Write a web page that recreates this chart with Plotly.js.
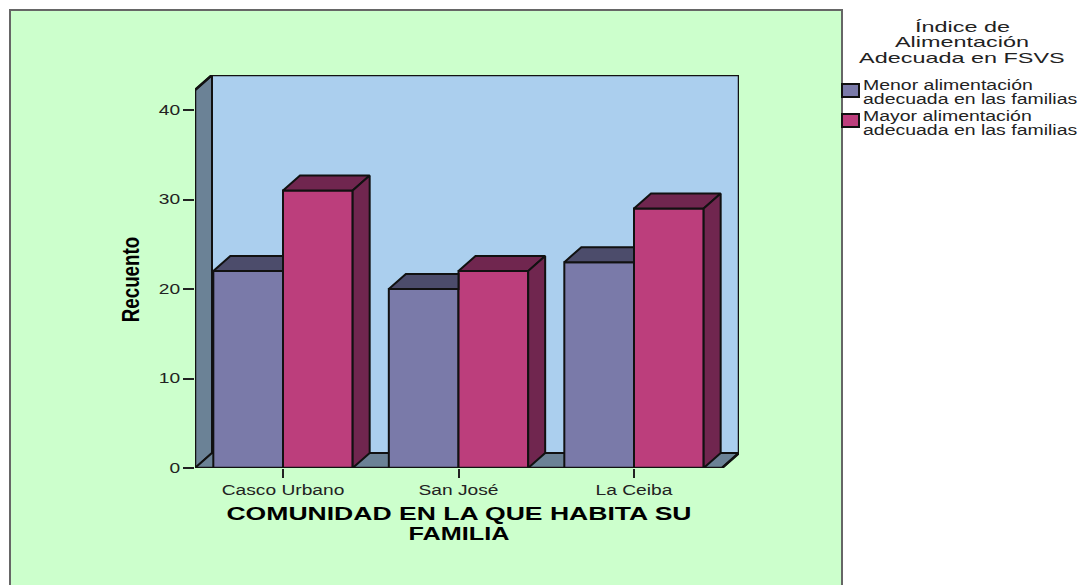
<!DOCTYPE html>
<html><head><meta charset="utf-8">
<script src="https://cdn.plot.ly/plotly-3.0.1.min.js"></script>
<style>
html,body{margin:0;padding:0;background:#fff}
</style></head><body>
<div id="chart" style="width:1080px;height:585px"></div>
<script>
const categories=['Casco Urbano','San José','La Ceiba'];
const categoryIndex=[0,1,2];
const menorValues=[22,20,23];
const mayorValues=[31,22,29];
const menorName=['Menor alimentación','adecuada en las familias'];
const mayorName=['Mayor alimentación','adecuada en las familias'];
const legendTitle=['Índice de','Alimentación','Adecuada en FSVS'];
const yTicks=[0,10,20,30,40];

const blue='#7A7AA9',blueTop='#4C4C6B',pink='#BC3E7C',pinkDark='#70264F';
const wall='#6B8296',back='#ABCFEE',panel='#CCFFCC',ink='#111';
const xMin=-0.5014,xMax=2.5983,yMax=43.91;
const dx=17/175.5,dy=15/8.95,gap=0.206,w=(1-gap)/2;
const face_font='Liberation Sans, Arial, sans-serif';

function poly(list){const x=[],y=[];list.forEach(p=>{p.forEach(q=>{x.push(q[0]);y.push(q[1])});x.push(p[0][0]);y.push(p[0][1]);x.push(null);y.push(null)});return {x,y}}
function face(list,color){const p=poly(list);return {type:'scatter',mode:'lines',x:p.x,y:p.y,fill:'toself',fillcolor:color,line:{color:ink,width:2},hoverinfo:'skip',showlegend:false}}

const menorTop=categoryIndex.map((c,i)=>[[c-w,menorValues[i]],[c-w+dx,menorValues[i]+dy],[c,menorValues[i]+dy],[c,menorValues[i]]]);
const mayorTop=categoryIndex.map((c,i)=>[[c,mayorValues[i]],[c+dx,mayorValues[i]+dy],[c+w+dx,mayorValues[i]+dy],[c+w,mayorValues[i]]]);
const mayorSide=categoryIndex.map((c,i)=>[[c+w,0],[c+w+dx,dy],[c+w+dx,mayorValues[i]+dy],[c+w,mayorValues[i]]]);

const xLeft=xMin,xBackLeft=xMin+dx,xRight=xMax,xFrontRight=xMax-dx;
const frame={type:'scatter',mode:'lines',cliponaxis:false,hoverinfo:'skip',showlegend:false,line:{color:ink,width:2.5},
 x:[xLeft,xLeft,xBackLeft,xRight,xRight,xFrontRight,xLeft],
 y:[0,yMax-dy,yMax,yMax,dy,0,0]};

const traces=[
 {type:'bar',name:menorName.join(' '),x:categoryIndex,y:menorValues,marker:{color:blue,line:{color:ink,width:2}},showlegend:false},
 {type:'bar',name:mayorName.join(' '),x:categoryIndex,y:mayorValues,marker:{color:pink,line:{color:ink,width:2}},showlegend:false},
 face(menorTop,blueTop),face(mayorTop,pinkDark),face(mayorSide,pinkDark),frame
];

function pathOf(points){return 'M'+points.map(p=>p.join(',')).join('L')+'Z'}
const shapes=[
 {type:'rect',xref:'paper',yref:'paper',x0:(10-195)/544,x1:(842-195)/544,y0:(468-600)/393,y1:(468-10)/393,layer:'below',fillcolor:panel,line:{color:'#666',width:2}},
 {type:'rect',xref:'x',yref:'y',x0:xBackLeft,x1:xRight,y0:dy,y1:yMax,layer:'below',fillcolor:back,line:{color:ink,width:2}},
 {type:'path',xref:'x',yref:'y',path:pathOf([[xLeft,0],[xLeft,yMax-dy],[xBackLeft,yMax],[xBackLeft,dy]]),layer:'below',fillcolor:wall,line:{color:ink,width:2}},
 {type:'path',xref:'x',yref:'y',path:pathOf([[xLeft,0],[xBackLeft,dy],[xRight,dy],[xFrontRight,0]]),layer:'below',fillcolor:wall,line:{color:ink,width:2}},
 {type:'rect',xref:'paper',yref:'paper',x0:(842-195)/544,x1:(859-195)/544,y0:(468-97)/393,y1:(468-84)/393,fillcolor:blue,line:{color:ink,width:2}},
 {type:'rect',xref:'paper',yref:'paper',x0:(842-195)/544,x1:(859-195)/544,y0:(468-127)/393,y1:(468-114)/393,fillcolor:pink,line:{color:ink,width:2}}
];

function note(text,px,py,anchor,size){return {text,xref:'paper',yref:'paper',x:(px-195)/544,y:(468-py)/393,xanchor:anchor,yanchor:'middle',showarrow:false,borderpad:0,font:{family:face_font,size:size,color:'#222'}}}
const annotations=[
 note(legendTitle[0],962,26,'center',15),note(legendTitle[1],962,42,'center',15),note(legendTitle[2],962,58,'center',15),
 note(menorName[0],863,85,'left',14),note(menorName[1],863,99,'left',14),
 note(mayorName[0],863,116,'left',14),note(mayorName[1],863,130,'left',14)
];

const layout={width:1080,height:585,autosize:false,margin:{l:195,r:341,t:75,b:117,pad:0},
 paper_bgcolor:'#fff',plot_bgcolor:'rgba(0,0,0,0)',barmode:'group',bargap:gap,bargroupgap:0,showlegend:false,shapes,annotations,
 xaxis:{range:[xMin,xMax],tickmode:'array',tickvals:categoryIndex,ticktext:categories,ticks:'outside',ticklen:9,tickwidth:2,tickcolor:'#222',showgrid:false,zeroline:false,showline:false,
  tickfont:{family:face_font,size:14,color:'#222'},
  title:{text:'COMUNIDAD EN LA QUE HABITA SU<br>FAMILIA',standoff:18,font:{family:face_font,size:18,color:'#000',weight:'bold'}}},
 yaxis:{range:[0,yMax],tickmode:'array',tickvals:yTicks,ticks:'outside',ticklen:11,tickwidth:2,tickcolor:'#222',showgrid:false,zeroline:false,showline:false,
  tickfont:{family:face_font,size:14,color:'#222'},
  title:{text:'Recuento',standoff:22,font:{family:face_font,size:24,color:'#000',weight:'bold'}}},
 font:{family:face_font}
};
function shift(n,tx,ty){n.setAttribute('transform','translate('+tx+','+ty+') '+(n.getAttribute('transform')||''))}
function stretch(n,k){const L=n.getComputedTextLength();n.setAttribute('textLength',L*k);n.setAttribute('lengthAdjust','spacingAndGlyphs')}
Plotly.newPlot('chart',traces,layout,{displayModeBar:false,staticPlot:true}).then(()=>{
 document.querySelectorAll('.xtick text,.ytick text').forEach(t=>stretch(t,1.37));
 const xt=document.querySelector('.xtitle');const yt=document.querySelector('.ytitle');
 const lines=xt.querySelectorAll('tspan.line');
 lines.forEach((t,i)=>{stretch(t,i===0?1.475:1.4);const d=parseFloat(t.getAttribute('dy')||'0');if(d)t.setAttribute('dy',(d/1.3*1.1)+'em')});
 const xb=xt.getBoundingClientRect();shift(xt,459-(xb.left+xb.right)/2,504-xb.top);
 stretch(yt,0.78);
 const yb=yt.getBoundingClientRect();shift(yt,130-(yb.left+yb.right)/2,279.5-(yb.top+yb.bottom)/2);
 document.querySelectorAll('.annotation').forEach(g=>{
  const i=+g.getAttribute('data-index');const t=g.querySelector('text');
  stretch(t,i<3?1.56:1.39);
  if(i>=3){const b=t.getBoundingClientRect();shift(t,863-b.left,0)}
 });
});
</script></body></html>
